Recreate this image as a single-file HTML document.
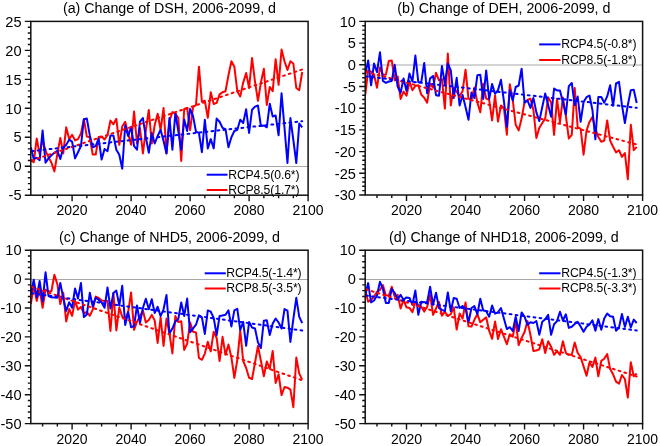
<!DOCTYPE html><html><head><meta charset="utf-8"><style>html,body{margin:0;padding:0;background:#fff;width:660px;height:446px;overflow:hidden}svg{display:block;will-change:transform}</style></head><body>
<svg width="660" height="446" viewBox="0 0 660 446" font-family='"Liberation Sans", sans-serif'>
<rect width="660" height="446" fill="#fff"/>
<line x1="30.8" y1="166.5" x2="308.1" y2="166.5" stroke="#a8a8a8" stroke-width="1"/>
<clipPath id="clipa"><rect x="30.8" y="21.4" width="277.3" height="173.8"/></clipPath>
<g clip-path="url(#clipa)" fill="none" stroke-width="2" stroke-linejoin="round">
<polyline points="30.8,160.2 33.75,162.1 36.7,138.5 39.65,154 42.6,139.7 45.55,150.9 48.5,157.1 51.45,162.7 54.4,171.4 57.35,154 60.3,137.9 63.25,153.4 66.2,127.3 69.15,139.1 72.1,134.8 75.05,140.4 78,139.1 80.95,133.5 83.9,119.2 86.85,136.6 89.8,137.3 92.75,154.6 95.7,154.6 98.65,137 101.6,136.5 104.55,139.5 107.5,135 110.45,120.5 113.4,124.3 116.35,118.8 119.3,144.8 122.25,126.5 125.2,121.8 128.15,133.6 131.1,144.8 134.05,111.5 137,143.5 139.95,128 142.9,153.4 145.85,130 148.8,110 151.75,143.5 154.7,125 157.65,113.7 160.6,129.8 163.55,108.1 166.5,153.4 169.45,121 172.4,112.1 175.35,113.5 178.3,118 181.25,161 184.2,109 187.15,108 190.1,130 193.05,107 196,105 198.95,66.7 201.9,101.8 204.85,100.8 207.8,117.8 210.75,92.2 213.7,104 216.65,102.9 219.6,94.4 222.55,92.2 225.5,91.2 228.45,75.2 231.4,61.3 234.35,66.7 237.3,91.2 240.25,96.5 243.2,82.6 246.15,73 249.1,88 252.05,58.1 255,81.6 257.95,100.8 260.9,82.6 263.85,68.8 266.8,105 269.75,86.9 272.7,91.2 275.65,59.2 278.6,84.8 281.55,49.6 284.5,61.3 287.45,69.9 290.4,61.3 293.35,63.5 296.3,88 299.25,90.1 302.2,72" stroke="#ff0000"/>
<polyline points="30.8,147.2 33.75,159 36.7,157.8 39.65,160.2 42.6,130.4 45.55,162.7 48.5,158.4 51.45,155.3 54.4,152.8 57.35,150.9 60.3,159 63.25,147.8 66.2,144.7 69.15,139.7 72.1,141.6 75.05,158.4 78,152.2 80.95,146 83.9,119.2 86.85,118.6 89.8,135.4 92.75,147.2 95.7,146 98.65,138.5 101.6,159.6 104.55,149 107.5,151.2 110.45,135.4 113.4,135.4 116.35,149.7 119.3,154.7 122.25,168.8 125.2,125.5 128.15,136.1 131.1,127 134.05,146 137,149.7 139.95,121.7 142.9,118 145.85,137.3 148.8,152.8 151.75,132.9 154.7,143.5 157.65,136 160.6,129.8 163.55,141 166.5,153.4 169.45,118 172.4,149.7 175.35,113 178.3,131 181.25,150 184.2,119.5 187.15,131.1 190.1,109 193.05,116.1 196,131.7 198.95,132.9 201.9,152.2 204.85,119.8 207.8,148.4 210.75,139.1 213.7,148.4 216.65,118.6 219.6,121.7 222.55,127.9 225.5,129.2 228.45,147.2 231.4,137.2 234.35,131 237.3,129.8 240.25,119.8 243.2,123 246.15,109.3 249.1,132.9 252.05,109.7 255,106.6 257.95,105.5 260.9,126.1 263.85,125.5 266.8,127.3 269.75,103.8 272.7,116.5 275.65,115.5 278.6,135.3 281.55,93.2 284.5,128 287.45,163 290.4,118.1 293.35,140 296.3,163 299.25,123.6 302.2,127.3" stroke="#0000ff"/>
<line x1="30.8" y1="160.8" x2="302.2" y2="69.5" stroke="#ff0000" stroke-dasharray="1.8 4.23" stroke-dashoffset="-0.9" stroke-linecap="round"/>
<line x1="30.8" y1="151.2" x2="302.2" y2="121.2" stroke="#0000ff" stroke-dasharray="1.8 4.23" stroke-dashoffset="-0.9" stroke-linecap="round"/>
</g>
<rect x="30.8" y="21.4" width="277.3" height="173.8" fill="none" stroke="#111" stroke-width="1.5"/>
<text x="21.5" y="200.4" font-size="14.6" text-anchor="end">-5</text>
<text x="21.5" y="171.43" font-size="14.6" text-anchor="end">0</text>
<text x="21.5" y="142.47" font-size="14.6" text-anchor="end">5</text>
<text x="21.5" y="113.5" font-size="14.6" text-anchor="end">10</text>
<text x="21.5" y="84.53" font-size="14.6" text-anchor="end">15</text>
<text x="21.5" y="55.57" font-size="14.6" text-anchor="end">20</text>
<text x="21.5" y="26.6" font-size="14.6" text-anchor="end">25</text>
<text x="72.1" y="215.4" font-size="14" text-anchor="middle">2020</text>
<text x="131.1" y="215.4" font-size="14" text-anchor="middle">2040</text>
<text x="190.1" y="215.4" font-size="14" text-anchor="middle">2060</text>
<text x="249.1" y="215.4" font-size="14" text-anchor="middle">2080</text>
<text x="308.1" y="215.4" font-size="14" text-anchor="middle">2100</text>
<path d="M24.8 195.2H30.8M27.8 189.41H30.8M27.8 183.61H30.8M27.8 177.82H30.8M27.8 172.03H30.8M24.8 166.23H30.8M27.8 160.44H30.8M27.8 154.65H30.8M27.8 148.85H30.8M27.8 143.06H30.8M24.8 137.27H30.8M27.8 131.47H30.8M27.8 125.68H30.8M27.8 119.89H30.8M27.8 114.09H30.8M24.8 108.3H30.8M27.8 102.51H30.8M27.8 96.71H30.8M27.8 90.92H30.8M27.8 85.13H30.8M24.8 79.33H30.8M27.8 73.54H30.8M27.8 67.75H30.8M27.8 61.95H30.8M27.8 56.16H30.8M24.8 50.37H30.8M27.8 44.57H30.8M27.8 38.78H30.8M27.8 32.99H30.8M27.8 27.19H30.8M24.8 21.4H30.8M42.6 195.2V198.2M57.35 195.2V198.2M72.1 195.2V201.2M86.85 195.2V198.2M101.6 195.2V198.2M116.35 195.2V198.2M131.1 195.2V201.2M145.85 195.2V198.2M160.6 195.2V198.2M175.35 195.2V198.2M190.1 195.2V201.2M204.85 195.2V198.2M219.6 195.2V198.2M234.35 195.2V198.2M249.1 195.2V201.2M263.85 195.2V198.2M278.6 195.2V198.2M293.35 195.2V198.2M308.1 195.2V201.2" stroke="#111" stroke-width="1.4" fill="none"/>
<text x="169.45" y="12.75" font-size="14.25" text-anchor="middle">(a) Change of DSH, 2006-2099, d</text>
<line x1="206.7" y1="174.7" x2="227.5" y2="174.7" stroke="#0000ff" stroke-width="2"/>
<line x1="206.7" y1="190" x2="227.5" y2="190" stroke="#ff0000" stroke-width="2"/>
<text x="228.2" y="178.6" font-size="12.2" letter-spacing="-0.1">RCP4.5(0.6*)</text>
<text x="228.2" y="193.9" font-size="12.2" letter-spacing="-0.1">RCP8.5(1.7*)</text>
<line x1="365.2" y1="65" x2="642.6" y2="65" stroke="#a8a8a8" stroke-width="1"/>
<clipPath id="clipb"><rect x="365.2" y="21.4" width="277.4" height="173.6"/></clipPath>
<g clip-path="url(#clipb)" fill="none" stroke-width="2" stroke-linejoin="round">
<polyline points="365.2,95.2 368.15,70.4 371.1,71.6 374.05,74.7 377,87.8 379.96,67.3 382.91,74.7 385.86,74.7 388.81,61 391.76,60.4 394.71,80.3 397.66,76.6 400.61,98.9 403.56,91.5 406.51,95.8 409.47,81.5 412.42,90.2 415.37,85.9 418.32,85.3 421.27,94.6 424.22,97.7 427.17,102.7 430.12,83.4 433.07,87.8 436.03,72.8 438.98,80.3 441.93,79 444.88,108.6 447.83,53.6 450.78,105.5 453.73,87.5 456.68,91.8 459.63,96.1 462.59,91.2 465.54,69.7 468.49,98.6 471.44,100 474.39,87.5 477.34,102.4 480.29,112.3 483.24,83.7 486.19,98.6 489.14,99.9 492.1,120.4 495.05,95.5 498,121.6 500.95,105.5 503.9,108 506.85,134.7 509.8,84.3 512.75,100 515.7,124.8 518.66,130.4 521.61,118.6 524.56,101.8 527.51,100 530.46,98.7 533.41,110 536.36,137.9 539.31,127.9 542.26,123 545.21,118.6 548.17,97.5 551.12,102.5 554.07,134.8 557.02,98.7 559.97,122.3 562.92,97.5 565.87,116 568.82,138.5 571.77,134.8 574.73,88 577.68,127.5 580.63,128.6 583.58,154.7 586.53,130.5 589.48,121.9 592.43,116.9 595.38,128.6 598.33,137 601.29,141.8 604.24,140.6 607.19,120.5 610.14,140.6 613.09,146.8 616.04,152.4 618.99,150.2 621.94,156.9 624.89,153 627.84,179.3 630.8,124.7 633.75,150.2 636.7,146.8" stroke="#ff0000"/>
<polyline points="365.2,74.7 368.15,60.4 371.1,85.3 374.05,63.5 377,72.2 379.96,52.3 382.91,80.9 385.86,82.8 388.81,81.5 391.76,80.9 394.71,64.8 397.66,86.5 400.61,92.7 403.56,78.4 406.51,90.9 409.47,73.5 412.42,81.5 415.37,55.5 418.32,82.2 421.27,82.2 424.22,62.9 427.17,93.3 430.12,78.4 433.07,76 436.03,95.2 438.98,95.8 441.93,66 444.88,84 447.83,63.5 450.78,70.4 453.73,98 456.68,77.8 459.63,105.5 462.59,94.9 465.54,107 468.49,119.8 471.44,92.5 474.39,98 477.34,75.3 480.29,74.7 483.24,99 486.19,70.4 489.14,99 492.1,84 495.05,93.8 498,90.1 500.95,79.8 503.9,101 506.85,126.6 509.8,90 512.75,100.5 515.7,87 518.66,85.5 521.61,68.7 524.56,102.7 527.51,100.5 530.46,107.9 533.41,97.9 536.36,112.4 539.31,121.1 542.26,107 545.21,93.5 548.17,105 551.12,116.7 554.07,88.6 557.02,90.4 559.97,90.4 562.92,102.2 565.87,114.5 568.82,86.1 571.77,83 574.73,105 577.68,96.5 580.63,121.8 583.58,102 586.53,97.2 589.48,95.5 592.43,110 595.38,139.3 598.33,97.1 601.29,97 604.24,102.7 607.19,96.4 610.14,85.2 613.09,105.8 616.04,83.5 618.99,81.9 621.94,105 624.89,123 627.84,105 630.8,90.3 633.75,89.7 636.7,103" stroke="#0000ff"/>
<line x1="365.2" y1="71.6" x2="636.7" y2="144.5" stroke="#ff0000" stroke-dasharray="1.8 4.23" stroke-dashoffset="-0.9" stroke-linecap="round"/>
<line x1="365.2" y1="76.3" x2="636.7" y2="107.8" stroke="#0000ff" stroke-dasharray="1.8 4.23" stroke-dashoffset="-0.9" stroke-linecap="round"/>
</g>
<rect x="365.2" y="21.4" width="277.4" height="173.6" fill="none" stroke="#111" stroke-width="1.5"/>
<text x="355.9" y="200.2" font-size="14.6" text-anchor="end">-30</text>
<text x="355.9" y="178.5" font-size="14.6" text-anchor="end">-25</text>
<text x="355.9" y="156.8" font-size="14.6" text-anchor="end">-20</text>
<text x="355.9" y="135.1" font-size="14.6" text-anchor="end">-15</text>
<text x="355.9" y="113.4" font-size="14.6" text-anchor="end">-10</text>
<text x="355.9" y="91.7" font-size="14.6" text-anchor="end">-5</text>
<text x="355.9" y="70" font-size="14.6" text-anchor="end">0</text>
<text x="355.9" y="48.3" font-size="14.6" text-anchor="end">5</text>
<text x="355.9" y="26.6" font-size="14.6" text-anchor="end">10</text>
<text x="406.51" y="215.2" font-size="14" text-anchor="middle">2020</text>
<text x="465.54" y="215.2" font-size="14" text-anchor="middle">2040</text>
<text x="524.56" y="215.2" font-size="14" text-anchor="middle">2060</text>
<text x="583.58" y="215.2" font-size="14" text-anchor="middle">2080</text>
<text x="642.6" y="215.2" font-size="14" text-anchor="middle">2100</text>
<path d="M359.2 195H365.2M362.2 190.66H365.2M362.2 186.32H365.2M362.2 181.98H365.2M362.2 177.64H365.2M359.2 173.3H365.2M362.2 168.96H365.2M362.2 164.62H365.2M362.2 160.28H365.2M362.2 155.94H365.2M359.2 151.6H365.2M362.2 147.26H365.2M362.2 142.92H365.2M362.2 138.58H365.2M362.2 134.24H365.2M359.2 129.9H365.2M362.2 125.56H365.2M362.2 121.22H365.2M362.2 116.88H365.2M362.2 112.54H365.2M359.2 108.2H365.2M362.2 103.86H365.2M362.2 99.52H365.2M362.2 95.18H365.2M362.2 90.84H365.2M359.2 86.5H365.2M362.2 82.16H365.2M362.2 77.82H365.2M362.2 73.48H365.2M362.2 69.14H365.2M359.2 64.8H365.2M362.2 60.46H365.2M362.2 56.12H365.2M362.2 51.78H365.2M362.2 47.44H365.2M359.2 43.1H365.2M362.2 38.76H365.2M362.2 34.42H365.2M362.2 30.08H365.2M362.2 25.74H365.2M359.2 21.4H365.2M377 195V198M391.76 195V198M406.51 195V201M421.27 195V198M436.03 195V198M450.78 195V198M465.54 195V201M480.29 195V198M495.05 195V198M509.8 195V198M524.56 195V201M539.31 195V198M554.07 195V198M568.82 195V198M583.58 195V201M598.33 195V198M613.09 195V198M627.84 195V198M642.6 195V201" stroke="#111" stroke-width="1.4" fill="none"/>
<text x="503.9" y="12.75" font-size="14.25" text-anchor="middle">(b) Change of DEH, 2006-2099, d</text>
<line x1="539.2" y1="44.4" x2="560.5" y2="44.4" stroke="#0000ff" stroke-width="2"/>
<line x1="539.2" y1="60" x2="560.5" y2="60" stroke="#ff0000" stroke-width="2"/>
<text x="561.2" y="48.3" font-size="12.2" letter-spacing="-0.1">RCP4.5(-0.8*)</text>
<text x="561.2" y="63.9" font-size="12.2" letter-spacing="-0.1">RCP8.5(-1.8*)</text>
<line x1="30.8" y1="279.5" x2="308.1" y2="279.5" stroke="#a8a8a8" stroke-width="1"/>
<clipPath id="clipc"><rect x="30.8" y="250.2" width="277.3" height="173.4"/></clipPath>
<g clip-path="url(#clipc)" fill="none" stroke-width="2" stroke-linejoin="round">
<polyline points="30.8,304 33.75,285.4 36.7,300.9 39.65,289.1 42.6,307.8 45.55,289.7 48.5,291.6 51.45,291 54.4,274.8 57.35,284.1 60.3,304 63.25,292.8 66.2,321.4 69.15,309 72.1,315.8 75.05,300.9 78,309.6 80.95,307 83.9,313.3 86.85,312 89.8,315.8 92.75,309.6 95.7,296.6 98.65,298 101.6,300.6 104.55,301 107.5,301 110.45,331 113.4,293.1 116.35,330.4 119.3,307.5 122.25,316.8 125.2,318.6 128.15,312 131.1,292.5 134.05,329.8 137,321.7 139.95,316.1 142.9,310.6 145.85,322.4 148.8,319.9 151.75,314.9 154.7,320.5 157.65,342.9 160.6,317.4 163.55,346 166.5,318.6 169.45,333.5 172.4,353.4 175.35,316.1 178.3,322 181.25,321.2 184.2,349.9 187.15,343.6 190.1,322.4 193.05,331.7 196,332.4 198.95,358 201.9,359.8 204.85,353.6 207.8,341.8 210.75,351.4 213.7,331.7 216.65,338 219.6,361 222.55,336.8 225.5,354.8 228.45,344.5 231.4,357.4 234.35,377.9 237.3,359.8 240.25,330.7 243.2,361 246.15,368 249.1,377.8 252.05,379 255,362.8 257.95,346 260.9,360.8 263.85,376.2 266.8,361.4 269.75,368.8 272.7,351 275.65,383 278.6,374.2 281.55,395.1 284.5,387 287.45,387.7 290.4,389.7 293.35,407.2 296.3,357.5 299.25,373.6 302.2,379.6" stroke="#ff0000"/>
<polyline points="30.8,294.7 33.75,279.8 36.7,297.2 39.65,281 42.6,301.5 45.55,272.3 48.5,296 51.45,297.2 54.4,297.5 57.35,297.8 60.3,282.9 63.25,298.4 66.2,310.9 69.15,302.2 72.1,307.8 75.05,288.5 78,298.4 80.95,282.9 83.9,317.1 86.85,314.6 89.8,292.8 92.75,306.5 95.7,297.8 98.65,299.7 101.6,302.5 104.55,307.8 107.5,287.4 110.45,308.6 113.4,293.1 116.35,290.6 119.3,305.5 122.25,285.7 125.2,325 128.15,312.1 131.1,327.3 134.05,326.1 137,305.5 139.95,323 142.9,308 145.85,298.7 148.8,309.3 151.75,299.3 154.7,313 157.65,306.8 160.6,316.1 163.55,309.3 166.5,295 169.45,333.5 172.4,328.6 175.35,321.5 178.3,319 181.25,302.5 184.2,316 187.15,298.6 190.1,332.3 193.05,328.4 196,324.7 198.95,315.4 201.9,317.3 204.85,334 207.8,310.4 210.75,311.7 213.7,317.9 216.65,335 219.6,316 222.55,315.4 225.5,314.8 228.45,310.4 231.4,326.5 234.35,310.4 237.3,308.8 240.25,330 243.2,322 246.15,345.8 249.1,322 252.05,327.5 255,328.5 257.95,342.4 260.9,348 263.85,320.7 266.8,320.3 269.75,335 272.7,323.6 275.65,318.6 278.6,322.5 281.55,328.5 284.5,309.1 287.45,310.7 290.4,341.9 293.35,319 296.3,297.8 299.25,316.9 302.2,323.1" stroke="#0000ff"/>
<line x1="30.8" y1="286.5" x2="302.2" y2="380.3" stroke="#ff0000" stroke-dasharray="1.8 4.23" stroke-dashoffset="-0.9" stroke-linecap="round"/>
<line x1="30.8" y1="293.2" x2="302.2" y2="330.5" stroke="#0000ff" stroke-dasharray="1.8 4.23" stroke-dashoffset="-0.9" stroke-linecap="round"/>
</g>
<rect x="30.8" y="250.2" width="277.3" height="173.4" fill="none" stroke="#111" stroke-width="1.5"/>
<text x="21.5" y="428.8" font-size="14.6" text-anchor="end">-50</text>
<text x="21.5" y="399.9" font-size="14.6" text-anchor="end">-40</text>
<text x="21.5" y="371" font-size="14.6" text-anchor="end">-30</text>
<text x="21.5" y="342.1" font-size="14.6" text-anchor="end">-20</text>
<text x="21.5" y="313.2" font-size="14.6" text-anchor="end">-10</text>
<text x="21.5" y="284.3" font-size="14.6" text-anchor="end">0</text>
<text x="21.5" y="255.4" font-size="14.6" text-anchor="end">10</text>
<text x="72.1" y="443.8" font-size="14" text-anchor="middle">2020</text>
<text x="131.1" y="443.8" font-size="14" text-anchor="middle">2040</text>
<text x="190.1" y="443.8" font-size="14" text-anchor="middle">2060</text>
<text x="249.1" y="443.8" font-size="14" text-anchor="middle">2080</text>
<text x="308.1" y="443.8" font-size="14" text-anchor="middle">2100</text>
<path d="M24.8 423.6H30.8M27.8 417.82H30.8M27.8 412.04H30.8M27.8 406.26H30.8M27.8 400.48H30.8M24.8 394.7H30.8M27.8 388.92H30.8M27.8 383.14H30.8M27.8 377.36H30.8M27.8 371.58H30.8M24.8 365.8H30.8M27.8 360.02H30.8M27.8 354.24H30.8M27.8 348.46H30.8M27.8 342.68H30.8M24.8 336.9H30.8M27.8 331.12H30.8M27.8 325.34H30.8M27.8 319.56H30.8M27.8 313.78H30.8M24.8 308H30.8M27.8 302.22H30.8M27.8 296.44H30.8M27.8 290.66H30.8M27.8 284.88H30.8M24.8 279.1H30.8M27.8 273.32H30.8M27.8 267.54H30.8M27.8 261.76H30.8M27.8 255.98H30.8M24.8 250.2H30.8M42.6 423.6V426.6M57.35 423.6V426.6M72.1 423.6V429.6M86.85 423.6V426.6M101.6 423.6V426.6M116.35 423.6V426.6M131.1 423.6V429.6M145.85 423.6V426.6M160.6 423.6V426.6M175.35 423.6V426.6M190.1 423.6V429.6M204.85 423.6V426.6M219.6 423.6V426.6M234.35 423.6V426.6M249.1 423.6V429.6M263.85 423.6V426.6M278.6 423.6V426.6M293.35 423.6V426.6M308.1 423.6V429.6" stroke="#111" stroke-width="1.4" fill="none"/>
<text x="169.45" y="241.55" font-size="14.25" text-anchor="middle">(c) Change of NHD5, 2006-2099, d</text>
<line x1="204.7" y1="273.3" x2="225.8" y2="273.3" stroke="#0000ff" stroke-width="2"/>
<line x1="204.7" y1="288.5" x2="225.8" y2="288.5" stroke="#ff0000" stroke-width="2"/>
<text x="226.3" y="277.2" font-size="12.2" letter-spacing="-0.1">RCP4.5(-1.4*)</text>
<text x="226.3" y="292.4" font-size="12.2" letter-spacing="-0.1">RCP8.5(-3.5*)</text>
<line x1="365.2" y1="279.5" x2="642.6" y2="279.5" stroke="#a8a8a8" stroke-width="1"/>
<clipPath id="clipd"><rect x="365.2" y="250.2" width="277.4" height="173.4"/></clipPath>
<g clip-path="url(#clipd)" fill="none" stroke-width="2" stroke-linejoin="round">
<polyline points="365.2,290 368.15,301.7 371.1,299.8 374.05,296.7 377,291.8 379.96,289.9 382.91,285 385.86,295.5 388.81,295.5 391.76,286.8 394.71,296.7 397.66,294.9 400.61,308.5 403.56,299.8 406.51,307.3 409.47,307.9 412.42,312.3 415.37,302.3 418.32,304.8 421.27,306.7 424.22,311.6 427.17,306.7 430.12,294.9 433.07,314.8 436.03,308.5 438.98,302 441.93,315.7 444.88,311.7 447.83,316 450.78,314.2 453.73,307.4 456.68,329.5 459.63,313.6 462.59,318.5 465.54,302.4 468.49,326.3 471.44,326.6 474.39,319.8 477.34,314.2 480.29,322.3 483.24,319.8 486.19,317.3 489.14,330.7 492.1,338.8 495.05,321.4 498,339 500.95,329.2 503.9,336.6 506.85,344.1 509.8,334.3 512.75,336.7 515.7,321 518.66,345.1 521.61,338 524.56,332 527.51,321.1 530.46,335 533.41,351.1 536.36,350.5 539.31,349.3 542.26,339.3 545.21,353 548.17,341.2 551.12,346.8 554.07,354.8 557.02,351.1 559.97,354.8 562.92,341.2 565.87,353 568.82,354.8 571.77,354.8 574.73,342.5 577.68,353 580.63,357 583.58,366.4 586.53,375.8 589.48,362.5 592.43,366.9 595.38,357.5 598.33,376.3 601.29,360.9 604.24,358.8 607.19,354.1 610.14,368.9 613.09,374.3 616.04,381.7 618.99,383.7 621.94,375 624.89,379 627.84,397.6 630.8,362.2 633.75,376.3 636.7,373.6" stroke="#ff0000"/>
<polyline points="365.2,295.5 368.15,283.1 371.1,302.3 374.05,300.5 377,295.5 379.96,281.8 382.91,288.7 385.86,303 388.81,303 391.76,288.7 394.71,293 397.66,299.2 400.61,294.9 403.56,299.8 406.51,297.4 409.47,298 412.42,304.8 415.37,290.5 418.32,314.8 421.27,301.7 424.22,302.3 427.17,302.3 430.12,286.8 433.07,304.8 436.03,292.8 438.98,308 441.93,309.8 444.88,311.1 447.83,292.5 450.78,311.1 453.73,298 456.68,298.7 459.63,308 462.59,306.1 465.54,308.6 468.49,322.3 471.44,308 474.39,306.1 477.34,314.2 480.29,298.7 483.24,310.5 486.19,311.1 489.14,316.7 492.1,305.5 495.05,313.6 498,312.3 500.95,308 503.9,318.5 506.85,329.1 509.8,327.2 512.75,331 515.7,316.7 518.66,331 521.61,312.4 524.56,316.7 527.51,324.8 530.46,322.3 533.41,323 536.36,321.1 539.31,334.8 542.26,321.7 545.21,319.2 548.17,314.9 551.12,334.8 554.07,324.2 557.02,321.1 559.97,311.8 562.92,320.5 565.87,314.3 568.82,327.9 571.77,326.7 574.73,324 577.68,321.8 580.63,326.5 583.58,331.8 586.53,326.8 589.48,324.5 592.43,320.2 595.38,330.8 598.33,319.1 601.29,329.7 604.24,318.5 607.19,313.5 610.14,316.3 613.09,316.8 616.04,330.8 618.99,327.5 621.94,314 624.89,326.9 627.84,316.8 630.8,327.5 633.75,319.6 636.7,323" stroke="#0000ff"/>
<line x1="365.2" y1="289" x2="636.7" y2="376.5" stroke="#ff0000" stroke-dasharray="1.8 4.23" stroke-dashoffset="-0.9" stroke-linecap="round"/>
<line x1="365.2" y1="295.5" x2="636.7" y2="330.5" stroke="#0000ff" stroke-dasharray="1.8 4.23" stroke-dashoffset="-0.9" stroke-linecap="round"/>
</g>
<rect x="365.2" y="250.2" width="277.4" height="173.4" fill="none" stroke="#111" stroke-width="1.5"/>
<text x="355.9" y="428.8" font-size="14.6" text-anchor="end">-50</text>
<text x="355.9" y="399.9" font-size="14.6" text-anchor="end">-40</text>
<text x="355.9" y="371" font-size="14.6" text-anchor="end">-30</text>
<text x="355.9" y="342.1" font-size="14.6" text-anchor="end">-20</text>
<text x="355.9" y="313.2" font-size="14.6" text-anchor="end">-10</text>
<text x="355.9" y="284.3" font-size="14.6" text-anchor="end">0</text>
<text x="355.9" y="255.4" font-size="14.6" text-anchor="end">10</text>
<text x="406.51" y="443.8" font-size="14" text-anchor="middle">2020</text>
<text x="465.54" y="443.8" font-size="14" text-anchor="middle">2040</text>
<text x="524.56" y="443.8" font-size="14" text-anchor="middle">2060</text>
<text x="583.58" y="443.8" font-size="14" text-anchor="middle">2080</text>
<text x="642.6" y="443.8" font-size="14" text-anchor="middle">2100</text>
<path d="M359.2 423.6H365.2M362.2 417.82H365.2M362.2 412.04H365.2M362.2 406.26H365.2M362.2 400.48H365.2M359.2 394.7H365.2M362.2 388.92H365.2M362.2 383.14H365.2M362.2 377.36H365.2M362.2 371.58H365.2M359.2 365.8H365.2M362.2 360.02H365.2M362.2 354.24H365.2M362.2 348.46H365.2M362.2 342.68H365.2M359.2 336.9H365.2M362.2 331.12H365.2M362.2 325.34H365.2M362.2 319.56H365.2M362.2 313.78H365.2M359.2 308H365.2M362.2 302.22H365.2M362.2 296.44H365.2M362.2 290.66H365.2M362.2 284.88H365.2M359.2 279.1H365.2M362.2 273.32H365.2M362.2 267.54H365.2M362.2 261.76H365.2M362.2 255.98H365.2M359.2 250.2H365.2M377 423.6V426.6M391.76 423.6V426.6M406.51 423.6V429.6M421.27 423.6V426.6M436.03 423.6V426.6M450.78 423.6V426.6M465.54 423.6V429.6M480.29 423.6V426.6M495.05 423.6V426.6M509.8 423.6V426.6M524.56 423.6V429.6M539.31 423.6V426.6M554.07 423.6V426.6M568.82 423.6V426.6M583.58 423.6V429.6M598.33 423.6V426.6M613.09 423.6V426.6M627.84 423.6V426.6M642.6 423.6V429.6" stroke="#111" stroke-width="1.4" fill="none"/>
<text x="503.9" y="241.55" font-size="14.25" text-anchor="middle">(d) Change of NHD18, 2006-2099, d</text>
<line x1="539.2" y1="273.3" x2="560.5" y2="273.3" stroke="#0000ff" stroke-width="2"/>
<line x1="539.2" y1="288.5" x2="560.5" y2="288.5" stroke="#ff0000" stroke-width="2"/>
<text x="561.2" y="277.2" font-size="12.2" letter-spacing="-0.1">RCP4.5(-1.3*)</text>
<text x="561.2" y="292.4" font-size="12.2" letter-spacing="-0.1">RCP8.5(-3.3*)</text>
</svg></body></html>
